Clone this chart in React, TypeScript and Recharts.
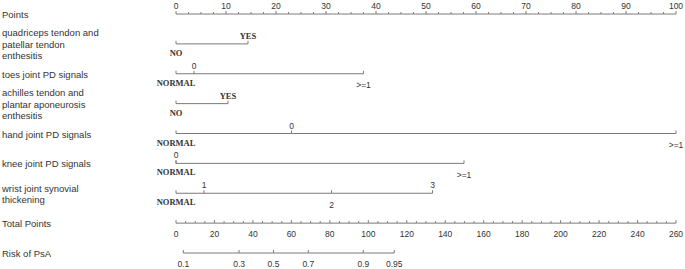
import React from 'react';
import { ComposedChart, Scatter, XAxis, YAxis } from 'recharts';

// row names, top to bottom
const rowLabels = [
  'Points',
  'quadriceps tendon and\npatellar tendon\nenthesitis',
  'toes joint PD signals',
  'achilles tendon and\nplantar aponeurosis\nenthesitis',
  'hand joint PD signals',
  'knee joint PD signals',
  'wrist joint synovial\nthickening',
  'Total Points',
  'Risk of PsA',
];

const pointsTicks = [0, 10, 20, 30, 40, 50, 60, 70, 80, 90, 100];
const totalTicks = [0, 20, 40, 60, 80, 100, 120, 140, 160, 180, 200, 220, 240, 260];

// variable levels and the points each one is worth
const quadLevels = ['NO', 'YES'];
const quadPoints = [0, 14.4];
const toesLevels = ['NORMAL', '0', '>=1'];
const toesPoints = [0, 3.6, 37.5];
const achillesLevels = ['NO', 'YES'];
const achillesPoints = [0, 10.4];
const handLevels = ['NORMAL', '0', '>=1'];
const handPoints = [0, 23.1, 100];
const kneeLevels = ['NORMAL', '0', '>=1'];
const kneePoints = [0, 0, 57.6];
const wristLevels = ['NORMAL', '1', '2', '3'];
const wristPoints = [0, 5.6, 31.1, 51.3];

// risk scale, read against total points
const riskLabels = ['0.1', '0.3', '0.5', '0.7', '0.9', '0.95'];
const riskTotals = [3.8, 32.8, 50.7, 68.8, 97.4, 113.5];

const LINE = '#7a7a7a';
const TEXT = '#333';
const SANS = '"Liberation Sans", Arial, sans-serif';
const SERIF = '"Liberation Serif", "Times New Roman", serif';

const withMinor = (major: number[], parts: number) => {
  const out: any[] = [];
  major.forEach((v, i) => {
    out.push({ v, label: String(v) });
    if (i < major.length - 1) {
      const step = (major[i + 1] - v) / parts;
      for (let k = 1; k < parts; k++) out.push({ v: v + step * k, label: '', minor: true });
    }
  });
  return out;
};

const pointsData = withMinor(pointsTicks, 4).map((t) => ({ x: t.v, y: 0, label: t.label, minor: t.minor, place: 'axisAbove' }));
const totalData = withMinor(totalTicks, 4).map((t) => ({ x: t.v, y: 7, label: t.label, minor: t.minor, place: 'axisBelow' }));
const riskData = riskLabels.map((l, i) => ({ x: riskTotals[i], y: 8, label: l, place: 'axisBelow' }));

const variables = [
  { row: 1, levels: quadLevels, points: quadPoints },
  { row: 2, levels: toesLevels, points: toesPoints },
  { row: 3, levels: achillesLevels, points: achillesPoints },
  { row: 4, levels: handLevels, points: handPoints },
  { row: 5, levels: kneeLevels, points: kneePoints },
  { row: 6, levels: wristLevels, points: wristPoints },
];

const variableData = variables.map((v) =>
  v.levels.map((l, i) => ({ x: v.points[i], y: v.row, label: l, place: i % 2 === 0 ? 'below' : 'above' }))
);

const TickShape = (props: any) => {
  const { cx, cy, payload } = props;
  const len = payload.minor ? 2 : 3;
  const word = /^[A-Z]+$/.test(payload.label);
  let dy = -5;
  if (payload.place === 'below') dy = word ? 12 : 14.5;
  if (payload.place === 'axisBelow') dy = 14;
  if (payload.place === 'axisAbove') dy = -5.5;
  return (
    <g>
      <line x1={cx} y1={cy} x2={cx} y2={cy - len} stroke={LINE} strokeWidth={1} />
      {payload.label ? (
        <text
          x={cx}
          y={cy + dy}
          textAnchor="middle"
          fontFamily={word ? SERIF : SANS}
          fontWeight={word ? 'bold' : 'normal'}
          fontSize={8.5}
          fill={TEXT}
        >
          {payload.label}
        </text>
      ) : null}
    </g>
  );
};

const RowLabel = (props: any) => {
  const { y, payload } = props;
  const lines = rowLabels[payload.value].split('\n');
  const lh = 11.5;
  const top = y - ((lines.length - 1) * lh) / 2;
  return (
    <text x={2} y={top} fontFamily={SANS} fontSize={9.5} fill={TEXT} dominantBaseline="central">
      {lines.map((s, i) => (
        <tspan key={i} x={2} y={top + i * lh}>
          {s}
        </tspan>
      ))}
    </text>
  );
};

export default function App() {
  return (
    <div style={{ position: 'absolute', left: 0, top: 0, background: '#fff' }}>
      <ComposedChart width={685} height={269} margin={{ top: 14, right: 9, left: 0, bottom: 16 }}>
        <XAxis xAxisId="pts" type="number" dataKey="x" domain={[0, 100]} hide />
        <XAxis xAxisId="tot" type="number" dataKey="x" domain={[0, 260]} hide />
        <YAxis
          yAxisId="rows"
          type="number"
          dataKey="y"
          domain={[0, 8]}
          reversed
          width={176}
          ticks={[0, 1, 2, 3, 4, 5, 6, 7, 8]}
          interval={0}
          axisLine={false}
          tickLine={false}
          tick={<RowLabel />}
        />
        <Scatter
          xAxisId="pts"
          yAxisId="rows"
          data={pointsData}
          line={{ stroke: LINE, strokeWidth: 1 }}
          lineType="joint"
          shape={<TickShape />}
          isAnimationActive={false}
        />
        {variableData.map((d, i) => (
          <Scatter
            key={i}
            xAxisId="pts"
            yAxisId="rows"
            data={d}
            line={{ stroke: LINE, strokeWidth: 1 }}
            lineType="joint"
            shape={<TickShape />}
            isAnimationActive={false}
          />
        ))}
        <Scatter
          xAxisId="tot"
          yAxisId="rows"
          data={totalData}
          line={{ stroke: LINE, strokeWidth: 1 }}
          lineType="joint"
          shape={<TickShape />}
          isAnimationActive={false}
        />
        <Scatter
          xAxisId="tot"
          yAxisId="rows"
          data={riskData}
          line={{ stroke: LINE, strokeWidth: 1 }}
          lineType="joint"
          shape={<TickShape />}
          isAnimationActive={false}
        />
      </ComposedChart>
    </div>
  );
}
